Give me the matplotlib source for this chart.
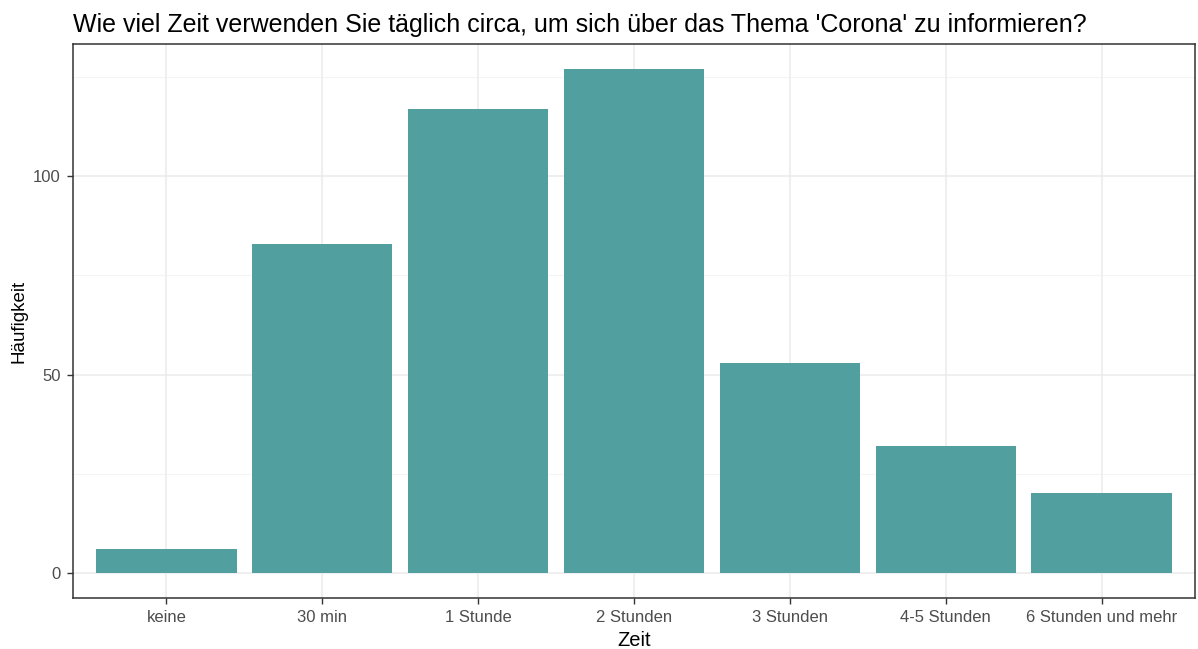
import matplotlib.pyplot as plt
from matplotlib.ticker import MultipleLocator

plt.rcParams['font.family'] = ['Liberation Sans', 'DejaVu Sans']

kategorien = ['keine', '30 min', '1 Stunde', '2 Stunden', '3 Stunden',
              '4-5 Stunden', '6 Stunden und mehr']
haeufigkeit = [6, 83, 117, 127, 53, 32, 20]

fig = plt.figure(figsize=(11.98, 6.49), dpi=100)
ax = fig.add_axes([0.0609, 0.0786, 0.9366, 0.8536])

x = range(len(kategorien))
ax.bar(x, haeufigkeit, width=0.9, color='#519f9f', zorder=3)

ax.set_xlim(-0.6, len(kategorien) - 0.4)
top = max(haeufigkeit)
ax.set_ylim(-0.05 * top, 1.05 * top)
ax.set_xticks(list(x))
ax.set_xticklabels(kategorien)
ax.yaxis.set_major_locator(MultipleLocator(50))
ax.yaxis.set_minor_locator(MultipleLocator(25))

ax.grid(True, which='major', color='#ebebeb', linewidth=1.1, zorder=0)
ax.grid(True, which='minor', axis='y', color='#f2f2f2', linewidth=0.6, zorder=0)
ax.tick_params(which='major', length=4, color='#333333', labelcolor='#4d4d4d',
               labelsize=12, width=1, pad=5)
ax.tick_params(which='minor', length=0)
for s in ax.spines.values():
    s.set_color('#333333')
    s.set_linewidth(1.1)

ax.set_xlabel('Zeit', fontsize=14.5, labelpad=4)
ax.set_ylabel('Häufigkeit', fontsize=13.5, labelpad=4)
ax.set_title("Wie viel Zeit verwenden Sie täglich circa, um sich über das Thema 'Corona' zu informieren?",
             fontsize=18, loc='left', pad=9)

fig.savefig('out.png', dpi=100)
